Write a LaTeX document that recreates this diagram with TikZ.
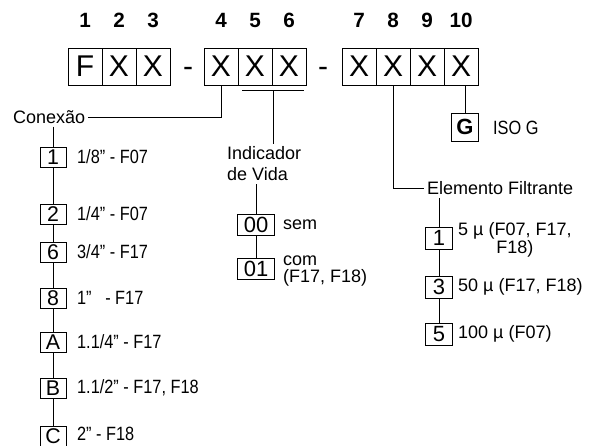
\documentclass[tikz,border=0pt]{standalone}
\usepackage{fontspec}
\setmainfont{Liberation Sans}
\newfontfamily\narrowfont[FakeStretch=0.85]{Liberation Sans}

\tikzset{every picture/.style={line width=0.75pt}}
\tikzset{
  codebox/.style={draw, inner sep=0pt, minimum width=25.5pt, minimum height=27.75pt, font=\fontsize{22.5}{23}\selectfont},
  posnum/.style={inner sep=1pt, font=\fontsize{15.5}{16}\selectfont\bfseries},
  optbox/.style={draw, inner sep=0pt, minimum width=19.5pt, minimum height=15pt, font=\fontsize{16}{16}\selectfont},
  lifebox/.style={draw, inner sep=0pt, minimum width=27.75pt, minimum height=15.75pt, font=\fontsize{16.5}{17}\selectfont},
  filtbox/.style={draw, inner sep=0pt, minimum width=20.25pt, minimum height=16.5pt, font=\fontsize{16.5}{17}\selectfont},
  lbl/.style={inner sep=2pt, font=\fontsize{13.5}{15.75}\selectfont},
  narrowlbl/.style={inner sep=2pt, font=\narrowfont\fontsize{14.4}{15}\selectfont},
}

\begin{document}
\begin{tikzpicture}[x=0.75pt,y=0.75pt,yscale=-1,xscale=1]
	\path[use as bounding box] (0,0) rectangle (603,446);

	% Position numbers
	\node[posnum] (n1) at (85,20) {1};
	\node[posnum] (n2) at (119,20) {2};
	\node[posnum] (n3) at (153,20) {3};
	\node[posnum] (n4) at (221,20) {4};
	\node[posnum] (n5) at (255,20) {5};
	\node[posnum] (n6) at (289,20) {6};
	\node[posnum] (n7) at (359,20) {7};
	\node[posnum] (n8) at (393,20) {8};
	\node[posnum] (n9) at (427,20) {9};
	\node[posnum] (n10) at (461,20) {10};

	% Code boxes
	\node[codebox] (b1) at (85,66.5) {F};
	\node[codebox] (b2) at (119,66.5) {X};
	\node[codebox] (b3) at (153,66.5) {X};
	\node[inner sep=0pt, font=\fontsize{22.5}{23}\selectfont] (dash1) at (188,72) {-};
	\node[codebox] (b4) at (221,66.5) {X};
	\node[codebox] (b5) at (255,66.5) {X};
	\node[codebox] (b6) at (289,66.5) {X};
	\node[inner sep=0pt, font=\fontsize{22.5}{23}\selectfont] (dash2) at (323,72) {-};
	\node[codebox] (b7) at (359,66.5) {X};
	\node[codebox] (b8) at (393,66.5) {X};
	\node[codebox] (b9) at (427,66.5) {X};
	\node[codebox] (b10) at (461,66.5) {X};

	% Conexao
	\node[lbl, anchor=west] (cx) at (10,117) {Conexão};
	\draw (cx.east) -| (b4.south);
	\node[optbox] (c1) at (53,157) {1};
	\node[optbox] (c2) at (53,214) {2};
	\node[optbox] (c3) at (53,252) {6};
	\node[optbox] (c4) at (53,298) {8};
	\node[optbox] (c5) at (53,342) {A};
	\node[optbox] (c6) at (53,388) {B};
	\node[optbox] (c7) at (53,436) {C};
	\draw (cx.south -| c1) -- (c1);
	\draw (c1) -- (c2);
	\draw (c2) -- (c3);
	\draw (c3) -- (c4);
	\draw (c4) -- (c5);
	\draw (c5) -- (c6);
	\draw (c6) -- (c7);
	\node[narrowlbl, anchor=west] (c1t) at (74,157) {1/8” - F07};
	\node[narrowlbl, anchor=west] (c2t) at (74,214) {1/4” - F07};
	\node[narrowlbl, anchor=west] (c3t) at (74,252) {3/4” - F17};
	\node[narrowlbl, anchor=west] (c4t) at (74,298) {1”\ \ \ - F17};
	\node[narrowlbl, anchor=west] (c5t) at (74,342) {1.1/4” - F17};
	\node[narrowlbl, anchor=west] (c6t) at (74,388) {1.1/2” - F17, F18};
	\node[narrowlbl, anchor=west] (c7t) at (74,434) {2” - F18};

	% Indicador de Vida
	\coordinate (br5) at (242,90);
	\coordinate (br6) at (304,90);
	\coordinate (brm) at (273,90);
	\draw (br5) -- (br6);
	\node[lbl, anchor=west, align=left] (iv) at (224,164) {Indicador\\de Vida};
	\draw (brm) -- (brm |- iv.north);
	\node[lifebox] (v0) at (256,224.5) {00};
	\node[lifebox] (v1) at (256,269) {01};
	\draw (v0 |- iv.south) -- (v0);
	\draw (v0) -- (v1);
	\node[lbl, anchor=west] (v0t) at (280,224.5) {sem};
	\node[lbl, anchor=west, align=left, font=\fontsize{13.5}{13}\selectfont] (v1t) at (280,271) {com\\(F17, F18)};

	% Elemento Filtrante
	\node[lbl, anchor=west] (ef) at (424,188) {Elemento Filtrante};
	\draw (b8.south) |- (ef.west);
	\node[filtbox] (f1) at (439,238) {1};
	\node[filtbox] (f3) at (439,287) {3};
	\node[filtbox] (f5) at (439,334) {5};
	\draw (f1 |- ef.south) -- (f1);
	\draw (f1) -- (f3);
	\draw (f3) -- (f5);
	\node[lbl, anchor=west, align=center, font=\fontsize{13.5}{11.25}\selectfont] (f1t) at (455,240) {5 µ (F07, F17,\\F18)};
	\node[lbl, anchor=west] (f3t) at (455,287) {50 µ (F17, F18)};
	\node[lbl, anchor=west] (f5t) at (455,334) {100 µ (F07)};

	% ISO G
	\node[draw, inner sep=0pt, minimum width=20.5pt, minimum height=21pt, font=\fontsize{16.5}{17}\selectfont\bfseries] (g) at (465,127) {G};
	\draw (g.north |- b10.south) -- (g.north);
	\node[narrowlbl, anchor=west] (gt) at (490,128) {ISO G};

\end{tikzpicture}
\end{document}
